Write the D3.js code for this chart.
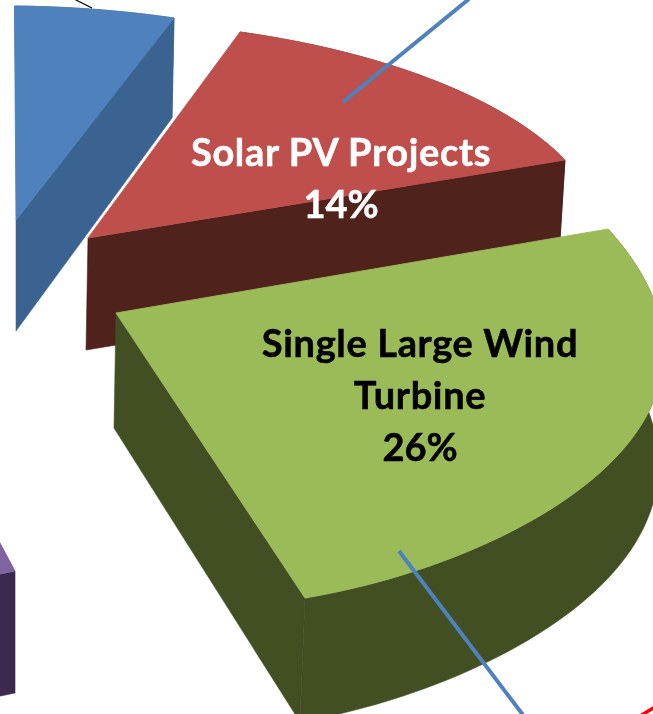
<!DOCTYPE html>
<html>
<head>
<meta charset="utf-8">
<style>
html,body{margin:0;padding:0;background:#fff;overflow:hidden}
svg{display:block}
text{font-family:Lato,"Open Sans",sans-serif;font-weight:700;text-anchor:middle;letter-spacing:.65px}
</style>
<script src="https://cdn.jsdelivr.net/npm/d3@7/dist/d3.min.js"></script>
</head>
<body>
<svg id="chart" width="653" height="714"></svg>
<script>
// ---- data ----
const sliceIds   = ["blue", "purple", "red", "green"];
const shares     = [5, 12, 14, 26];            // percent of the whole pie (blue, purple estimated; they carry no visible label)
const topColors  = ["#4f81bd", "#8064a2", "#bf504d", "#9bbb59"];
const wallColors = ["#3a6491", "#3a2c4d", "#4f201e", "#424f23"];
const labelLines = [
  ["Solar PV Projects", "14%"],
  ["Single Large Wind", "Turbine", "26%"]
];
const labelOwners = ["red", "green"];

// ---- layout of the exploded, perspective-skewed slices within the crop ----
const placement = {
  blue:   {apex:[16,220],  start:[14.5,6],   end:[174,18],  apexLow:[16,331],  startLow:[16,120],   endLow:[172,118], skew:0},
  purple: {apex:[15,571],  start:[-105,347], end:[-285,631], apexLow:[15,693], startLow:[-105,465], endLow:[-285,755], skew:0},
  red:    {apex:[88,238],  start:[240,32],   end:[565,160], apexLow:[86,350],  startLow:[238,145],  endLow:[558,272], skew:0},
  green:  {apex:[116,313], start:[608,229],  end:[305,598], apexLow:[114,428], startLow:[604,340],  endLow:[300,722], skew:0.016}
};
const labelLayout = {
  red:   {x:341, y:166, size:38, fill:"#ffffff", lh:52},
  green: {x:420, y:357, size:38, fill:"#000000", lh:52}
};
const leaders = [
  {from:[469,-1], to:[343,102], color:"#4f81bd", width:4},
  {from:[399,551], to:[523,715], color:"#4f81bd", width:4},
  {from:[74,-1], to:[92,8], color:"#000000", width:1.3},
  {from:[640,716], to:[655,707], color:"#ff0000", width:3.5}
];

// ---- scales and generators ----
const sweep = d3.scaleLinear().domain([0,100]).range([0,2*Math.PI]);
const svg = d3.select("#chart");
const defs = svg.append("defs");
defs.append("filter").attr("id","soft").attr("x","-5%").attr("y","-5%").attr("width","110%").attr("height","110%")
    .append("feGaussianBlur").attr("stdDeviation",0.6);
const line = d3.line();

function arcPoints(apex, a, b, theta, skew){
  const v1=[a[0]-apex[0],a[1]-apex[1]], v2=[b[0]-apex[0],b[1]-apex[1]];
  return d3.range(0,61).map(i=>{
    const t=theta*i/60, u=Math.sin(theta-t)/Math.sin(theta), v=Math.sin(t)/Math.sin(theta);
    const w=1+skew*Math.sin(2*Math.PI*t/theta);
    return [apex[0]+w*(u*v1[0]+v*v2[0]), apex[1]+w*(u*v1[1]+v*v2[1])];
  });
}

const slices = sliceIds.map((id,i)=>{
  const p=placement[id], theta=sweep(shares[i]);
  return {id, p,
    top:arcPoints(p.apex,p.start,p.end,theta,p.skew),
    low:arcPoints(p.apexLow,p.startLow,p.endLow,theta,p.skew),
    topColor:topColors[i], wallColor:wallColors[i]};
});

const root = svg.append("g").attr("filter","url(#soft)");
const g = root.selectAll("g.slice").data(slices).join("g").attr("class","slice");
// outer wall (top arc and bottom arc)
g.append("path").attr("fill",d=>d.wallColor).attr("stroke",d=>d.wallColor).attr("stroke-width",0.6)
 .attr("d",d=>line(d.top.concat(d.low.slice().reverse()))+"Z");
// radial wall on the end side; the stroke closes the seam with the outer wall
g.append("path").attr("fill",d=>d.wallColor).attr("stroke",d=>d.wallColor).attr("stroke-width",0.6)
 .attr("d",d=>line([d.p.apex,d.p.end,d.p.endLow,d.p.apexLow])+"Z");
// top face; its own thin stroke covers the wall stroke along the rim
g.append("path").attr("fill",d=>d.topColor).attr("stroke",d=>d.topColor).attr("stroke-width",0.9)
 .attr("d",d=>line([d.p.apex].concat(d.top))+"Z");

// leaders
root.selectAll("path.leader").data(leaders).join("path").attr("class","leader")
 .attr("d",d=>line([d.from,d.to])).attr("stroke",d=>d.color).attr("stroke-width",d=>d.width).attr("fill","none");

// labels
const labels = labelOwners.map((id,i)=>({id,lines:labelLines[i],...labelLayout[id]}));
const tg = root.selectAll("text.lab").data(labels).join("text").attr("class","lab")
 .attr("fill",d=>d.fill).attr("stroke",d=>d.fill).attr("stroke-width",0.5).attr("font-size",d=>d.size);
tg.selectAll("tspan").data(d=>d.lines.map((s,i)=>({s,x:d.x,y:d.y+i*d.lh}))).join("tspan")
 .attr("x",d=>d.x).attr("y",d=>d.y)
 .style("letter-spacing",d=>d.s.endsWith("%")?"0px":null)
 .text(d=>d.s);
</script>
</body>
</html>
